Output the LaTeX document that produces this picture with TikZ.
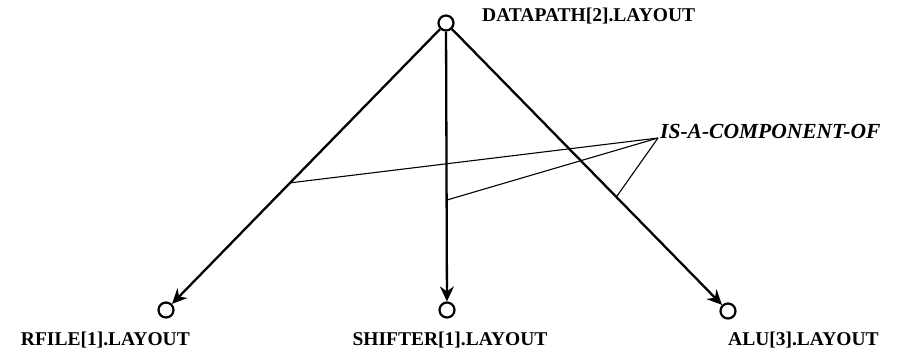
\documentclass[tikz,border=0pt]{standalone}
\usepackage{fontspec}
\setmainfont{Liberation Serif}
\usetikzlibrary{arrows.meta,calc}
\begin{document}
\begin{tikzpicture}[x=1pt,y=-1pt,
  circ/.style={circle,draw,line width=2.2pt,minimum size=15pt,inner sep=0pt},
  mainline/.style={line width=2.3pt,-{Stealth[length=15pt,width=14pt,inset=5pt]}},
  conn/.style={line width=1.1pt},
  lbl/.style={font=\fontsize{19.5}{22}\selectfont\bfseries,inner sep=0pt},
  rel/.style={font=\fontsize{21.5}{24}\selectfont\bfseries\itshape,inner sep=0pt}]
\useasboundingbox (0,0) rectangle (899,360);
\node[circ] (top) at (446,23) {};
\node[circ] (l) at (166,310) {};
\node[circ] (m) at (447,310) {};
\node[circ] (r) at (728,311) {};
\node[lbl,anchor=west] (tl) at (482,16) {DATAPATH[2].LAYOUT};
\node[lbl,anchor=east] (ll) at (190,340) {RFILE[1].LAYOUT};
\node[lbl] (ml) at (450,340) {SHIFTER[1].LAYOUT};
\node[lbl,anchor=west] (rl) at (728,340) {ALU[3].LAYOUT};
\node[rel,anchor=base west] (isa) at (660,138) {IS-A-COMPONENT-OF};
\draw[mainline] (top) -- (l);
\draw[mainline] (top) -- (m);
\draw[mainline] (top) -- (r);
\coordinate (apex) at ($(isa.base west)+(-2,0)$);
\coordinate (pl) at ($(top.center)!0.557!(l.center)$);
\coordinate (pm) at ($(top.center)!0.617!(m.center)$);
\coordinate (pr) at ($(top.center)!0.604!(r.center)$);
\draw[conn] (apex) -- (pl);
\draw[conn] (apex) -- (pm);
\draw[conn] (apex) -- (pr);
\end{tikzpicture}
\end{document}
